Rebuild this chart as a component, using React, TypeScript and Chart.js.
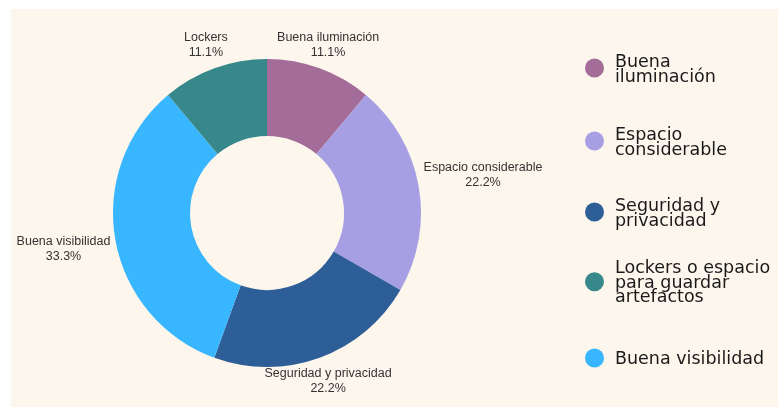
import React, { useEffect, useRef } from "react";
import { Chart, registerables } from "chart.js";

Chart.register(...registerables);

// Slices in drawing order (clockwise from top)
const sliceLabels = ["Buena iluminación", "Espacio considerable", "Seguridad y privacidad", "Buena visibilidad", "Lockers"];
const sliceValues = [1, 2, 2, 3, 1];
const sliceColors = ["#A46C99", "#A79FE3", "#2D5E98", "#38B6FF", "#37888A"];

// Legend entries in the reference's order
const legendLabels = [
  ["Buena", "iluminación"],
  ["Espacio", "considerable"],
  ["Seguridad y", "privacidad"],
  ["Lockers o espacio", "para guardar", "artefactos"],
  ["Buena visibilidad"],
];
const legendColors = ["#A46C99", "#A79FE3", "#2D5E98", "#37888A", "#38B6FF"];

const BG = "#FDF6EC";

const outerLabels = {
  id: "outerLabels",
  afterDatasetsDraw(chart: any) {
    const ctx = chart.ctx;
    const meta = chart.getDatasetMeta(0);
    const data = chart.data.datasets[0].data as number[];
    const total = data.reduce((a, b) => a + b, 0);
    const fontSize = 12.5;
    const lh = 14.5;
    const off = 5;
    const vpad = 4;
    ctx.save();
    ctx.font = `${fontSize}px "Liberation Sans", Arial, sans-serif`;
    ctx.fillStyle = "#333333";
    ctx.textAlign = "center";
    ctx.textBaseline = "middle";
    meta.data.forEach((arc: any, i: number) => {
      const p = arc.getProps(["x", "y", "startAngle", "endAngle", "outerRadius"], true);
      const mid = (p.startAngle + p.endAngle) / 2;
      const ux = Math.cos(mid);
      const uy = Math.sin(mid);
      const lines = [String(chart.data.labels[i]), ((data[i] / total) * 100).toFixed(1) + "%"];
      const w = Math.max(...lines.map((l) => ctx.measureText(l).width));
      const h = lines.length * lh;
      const a = w / 2;
      const b = h / 2 + vpad;
      const k = Math.min(Math.abs(ux) > 1e-6 ? a / Math.abs(ux) : Infinity, Math.abs(uy) > 1e-6 ? b / Math.abs(uy) : Infinity);
      const d = p.outerRadius + off + k;
      const cx = p.x + ux * d;
      const cy = p.y + uy * d;
      lines.forEach((l, j) => {
        ctx.fillText(l, cx, cy - h / 2 + lh / 2 + j * lh);
      });
    });
    ctx.restore();
  },
};

export default function App() {
  const ref = useRef<HTMLCanvasElement>(null);
  useEffect(() => {
    if (!ref.current) return;
    const chart = new Chart(ref.current, {
      type: "doughnut",
      data: {
        labels: sliceLabels,
        datasets: [
          {
            data: sliceValues,
            backgroundColor: sliceColors,
            borderWidth: 0,
          },
        ],
      },
      options: {
        animation: false,
        responsive: false,
        cutout: "50%",
        layout: { padding: { left: 102, right: 357, top: 50, bottom: 40 } },
        plugins: {
          legend: { display: false },
          tooltip: { enabled: false },
        },
      },
      plugins: [outerLabels],
    });
    return () => chart.destroy();
  }, []);

  // legend circle centre y (page coordinates minus the panel's 9px offset)
  const legendY = [68, 141, 212, 282, 358].map((y) => y - 9);

  return (
    <div
      style={{
        position: "fixed",
        left: 11,
        top: 9,
        width: 767,
        height: 398,
        background: BG,
        overflow: "hidden",
      }}
    >
      <canvas ref={ref} width={767} height={398} style={{ position: "absolute", left: 0, top: 0 }} />
      {legendLabels.map((lines, i) => (
        <div
          key={i}
          style={{
            position: "absolute",
            left: 574,
            top: legendY[i],
            transform: "translateY(-50%)",
            display: "flex",
            alignItems: "center",
          }}
        >
          <div
            style={{
              width: 19,
              height: 19,
              borderRadius: "50%",
              background: legendColors[i],
              flex: "0 0 auto",
            }}
          />
          <div
            style={{
              marginLeft: 11,
              fontFamily: '"DejaVu Sans", sans-serif',
              fontSize: 17.5,
              lineHeight: "14.5px",
              color: "#1a1a1a",
              whiteSpace: "nowrap",
            }}
          >
            {lines.map((l, j) => (
              <div key={j}>{l}</div>
            ))}
          </div>
        </div>
      ))}
    </div>
  );
}
